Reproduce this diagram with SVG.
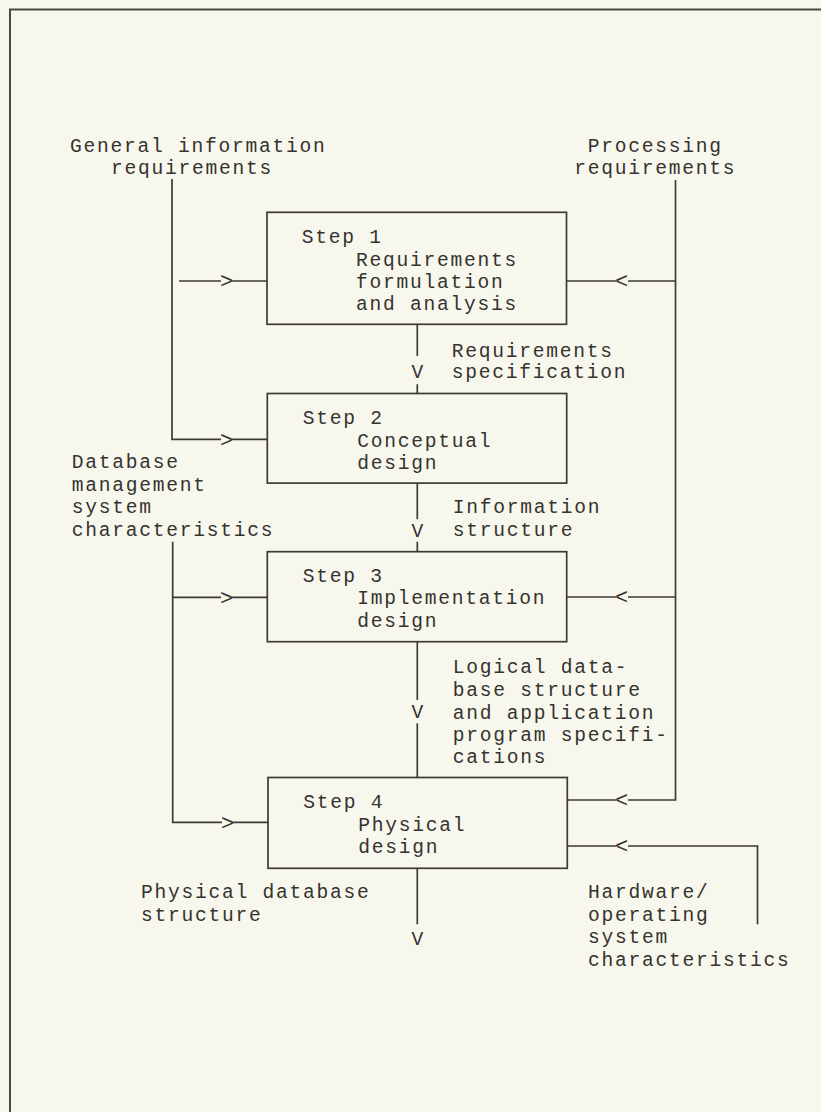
<svg xmlns="http://www.w3.org/2000/svg" width="821" height="1112" viewBox="0 0 821 1112">
  <style>
    .t { font-family: "Liberation Mono", "Courier New", monospace; font-size: 19.6px; letter-spacing: 1.74px; fill: #35332f; }
    .g { font-family: "Liberation Mono", "Courier New", monospace; font-size: 19.6px; fill: #35332f; text-anchor: middle; }
    .c { font-family: "Liberation Mono", "Courier New", monospace; font-size: 22px; fill: #35332f; text-anchor: middle; }
    .box { fill: none; stroke: #3c3a36; stroke-width: 1.7; }
    .ln { fill: none; stroke: #3c3a36; stroke-width: 1.7; }
    .frame { fill: none; stroke: #4a4844; stroke-width: 2; }
  </style>
  <rect x="0" y="0" width="821" height="1112" fill="#f8f7ee"/>
  <path class="frame" d="M10,1112 V9.5 H821"/>

  <!-- input labels -->
  <g id="label-general">
    <text class="t" x="70" y="152.3">General information</text>
    <text class="t" x="111" y="174">requirements</text>
  </g>
  <g id="label-processing">
    <text class="t" x="587.7" y="151.7">Processing</text>
    <text class="t" x="574.3" y="174">requirements</text>
  </g>
  <g id="label-dbms">
    <text class="t" x="71.7" y="468.3">Database</text>
    <text class="t" x="71.7" y="490.7">management</text>
    <text class="t" x="71.7" y="513.3">system</text>
    <text class="t" x="71.7" y="536">characteristics</text>
  </g>
  <g id="label-hardware">
    <text class="t" x="588" y="898.3">Hardware/</text>
    <text class="t" x="588" y="920.7">operating</text>
    <text class="t" x="588" y="943.3">system</text>
    <text class="t" x="588" y="966">characteristics</text>
  </g>

  <!-- step boxes -->
  <g id="step1">
    <rect class="box" x="267" y="212.3" width="299.5" height="112"/>
    <text class="t" x="301.7" y="243.3">Step 1</text>
    <text class="t" x="356" y="265.7">Requirements</text>
    <text class="t" x="356" y="287.8">formulation</text>
    <text class="t" x="356" y="310">and analysis</text>
  </g>
  <g id="step2">
    <rect class="box" x="267.3" y="393.5" width="299.4" height="89.6"/>
    <text class="t" x="302.7" y="424">Step 2</text>
    <text class="t" x="357.3" y="446.7">Conceptual</text>
    <text class="t" x="357.3" y="469.3">design</text>
  </g>
  <g id="step3">
    <rect class="box" x="267.3" y="551.7" width="299.4" height="90"/>
    <text class="t" x="302.7" y="581.7">Step 3</text>
    <text class="t" x="357.3" y="604">Implementation</text>
    <text class="t" x="357.3" y="626.7">design</text>
  </g>
  <g id="step4">
    <rect class="box" x="268" y="777.5" width="299.3" height="90.8"/>
    <text class="t" x="303.3" y="808.3">Step 4</text>
    <text class="t" x="358.3" y="830.7">Physical</text>
    <text class="t" x="358.3" y="853.3">design</text>
  </g>

  <!-- flow labels -->
  <g id="label-req-spec">
    <text class="t" x="451.7" y="356.7">Requirements</text>
    <text class="t" x="451.7" y="378.3">specification</text>
  </g>
  <g id="label-info-structure">
    <text class="t" x="452.7" y="513.3">Information</text>
    <text class="t" x="452.7" y="536">structure</text>
  </g>
  <g id="label-logical">
    <text class="t" x="452.7" y="673.3">Logical data-</text>
    <text class="t" x="452.7" y="696">base structure</text>
    <text class="t" x="452.7" y="718.7">and application</text>
    <text class="t" x="452.7" y="741">program specifi-</text>
    <text class="t" x="452.7" y="763.3">cations</text>
  </g>
  <g id="label-physical-db">
    <text class="t" x="141" y="898.3">Physical database</text>
    <text class="t" x="141" y="920.7">structure</text>
  </g>

  <!-- connectors -->
  <g id="connectors">
    <!-- main downward flow -->
    <path class="ln" d="M417.3,324.3 V356 M417.3,384.3 V393.5"/>
    <text class="g" x="417.3" y="378.3">V</text>
    <path class="ln" d="M417.3,483.1 V519.3 M417.3,541.7 V551.7"/>
    <text class="g" x="417.3" y="536.7">V</text>
    <path class="ln" d="M417.3,641.7 V700 M417.3,723.3 V777.5"/>
    <text class="g" x="417.3" y="718.3">V</text>
    <path class="ln" d="M417.3,868.3 V924.3"/>
    <text class="g" x="417.3" y="945">V</text>

    <!-- general information requirements -->
    <path class="ln" d="M172,179 V439.3 H221 M232,439.3 H267.3"/>
    <text class="c" x="226.5" y="446.6">&gt;</text>
    <path class="ln" d="M179,281 H221 M232,281 H267"/>
    <text class="c" x="226.5" y="288.3">&gt;</text>

    <!-- database management system characteristics -->
    <path class="ln" d="M172.7,541.7 V822.3 H222 M233,822.3 H268"/>
    <text class="c" x="227.5" y="829.6">&gt;</text>
    <path class="ln" d="M172.7,597.3 H221 M232,597.3 H267.3"/>
    <text class="c" x="226.5" y="604.6">&gt;</text>

    <!-- processing requirements -->
    <path class="ln" d="M675.5,180 V800 H628 M616,800 H567.3"/>
    <text class="c" x="621.5" y="807.3">&lt;</text>
    <path class="ln" d="M675.5,281 H628 M616,281 H566.5"/>
    <text class="c" x="621.5" y="288.3">&lt;</text>
    <path class="ln" d="M675.5,597 H628 M616,597 H566.7"/>
    <text class="c" x="621.5" y="604.3">&lt;</text>

    <!-- hardware / operating system characteristics -->
    <path class="ln" d="M757.5,924.3 V846 H628 M616,846 H567.3"/>
    <text class="c" x="621.5" y="853.3">&lt;</text>
  </g>
</svg>
